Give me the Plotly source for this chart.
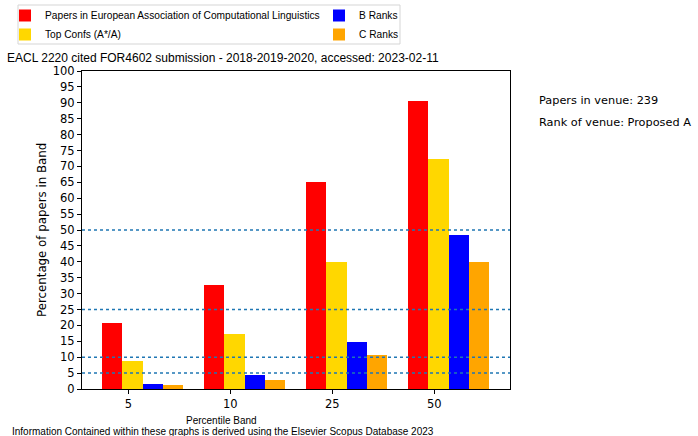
import plotly.graph_objects as go

# ---- data ----
bands = ["5", "10", "25", "50"]
series_names = ["Papers in European Association of Computational Linguistics",
                "Top Confs (A*/A)", "B Ranks", "C Ranks"]
venue_vals = [20.6, 32.6, 65.0, 90.6]
top_vals = [8.9, 17.4, 39.9, 72.2]
b_vals = [1.7, 4.4, 14.9, 48.3]
c_vals = [1.3, 2.8, 10.6, 39.9]
thresholds = [5, 10, 25, 50]
colors = ["red", "gold", "blue", "orange"]
title_text = "EACL 2220 cited FOR4602 submission - 2018-2019-2020, accessed: 2023-02-11"
side_texts = ["Papers in venue: 239", "Rank of venue: Proposed A"]
footer_text = "Information Contained within these graphs is derived using the Elsevier Scopus Database 2023"

NARROW = "Liberation Sans, Arial, sans-serif"
NORMAL = "DejaVu Sans, sans-serif"

shifts = [-0.16, 0.04, 0.24, 0.44]
legend_ids = ["legend", "legend", "legend2", "legend2"]
series = [venue_vals, top_vals, b_vals, c_vals]
pos = list(range(len(bands)))

W, H = 698, 436
L, R, T, B = 82, 510, 71, 389
pw, ph = R - L, B - T


def px_x(x):
    return (x - L) / pw


def px_y(y):
    return (B - y) / ph


fig = go.Figure()
for i in range(4):
    fig.add_trace(go.Bar(
        x=[p + shifts[i] for p in pos], y=series[i], width=0.2,
        name=series_names[i], legend=legend_ids[i],
        marker=dict(color=colors[i], line=dict(width=0)),
    ))

for t in thresholds:
    fig.add_shape(type="line", xref="paper", x0=0, x1=1, yref="y", y0=t, y1=t,
                  line=dict(color="#1f77b4", width=1.5, dash="dot"), layer="above")

# legend frame
fig.add_shape(type="rect", xref="paper", yref="paper",
              x0=px_x(18), x1=px_x(400), y0=px_y(44), y1=px_y(5),
              line=dict(color="#d5d5d5", width=1), fillcolor="rgba(255,255,255,0.8)",
              layer="below")

leg_common = dict(orientation="v", yanchor="top", xanchor="left",
                  bgcolor="rgba(0,0,0,0)", borderwidth=0,
                  font=dict(family=NARROW, size=10.2, color="black"),
                  tracegroupgap=0, traceorder="normal")

fig.update_layout(
    width=W, height=H,
    margin=dict(l=L, r=W - R, t=T, b=H - B, pad=0, autoexpand=False),
    plot_bgcolor="white", paper_bgcolor="white",
    barmode="overlay", bargap=0,
    showlegend=True,
    font=dict(family=NORMAL, size=12, color="black"),
    title=dict(text=title_text, x=7 / W, xanchor="left", xref="container",
               y=1 - 58 / H, yanchor="middle", yref="container",
               font=dict(family=NARROW, size=12, color="black")),
    legend=dict(x=px_x(5), y=px_y(1), **leg_common),
    legend2=dict(x=px_x(319), y=px_y(1), **leg_common),
    xaxis=dict(range=[-0.454, 3.742], tickmode="array", tickvals=pos, ticktext=bands,
               showgrid=False, zeroline=False, showline=True, linecolor="black",
               linewidth=1, mirror=True, ticks="outside", ticklen=4, tickcolor="black",
               tickfont=dict(family=NORMAL, size=11.5)),
    yaxis=dict(range=[0, 100], dtick=5, showgrid=False, zeroline=False, showline=True,
               linecolor="black", linewidth=1, mirror=True, ticks="outside", ticklen=4,
               tickcolor="black", tickfont=dict(family=NORMAL, size=11.5)),
)

annotations = [
    dict(text="Percentile Band", x=px_x(221), y=px_y(420), xref="paper", yref="paper",
         showarrow=False, xanchor="center", yanchor="middle",
         font=dict(family=NARROW, size=10)),
    dict(text="Percentage of papers in Band", x=px_x(42), y=0.5, xref="paper", yref="paper",
         showarrow=False, textangle=-90, xanchor="center", yanchor="middle",
         font=dict(family=NORMAL, size=11.8)),
    dict(text=footer_text, x=px_x(10), y=px_y(431), xref="paper", yref="paper",
         showarrow=False, xanchor="left", yanchor="middle",
         font=dict(family=NARROW, size=10)),
]
for k, txt in enumerate(side_texts):
    annotations.append(dict(text=txt, x=px_x(537), y=px_y(100 + 22.7 * k), xref="paper",
                            yref="paper", showarrow=False, xanchor="left", yanchor="middle",
                            font=dict(family=NORMAL, size=11.3)))
fig.update_layout(annotations=annotations)

fig.write_html("out.html", config={"displayModeBar": False},
               post_script="document.body.style.margin='0';document.body.style.overflow='hidden';")
